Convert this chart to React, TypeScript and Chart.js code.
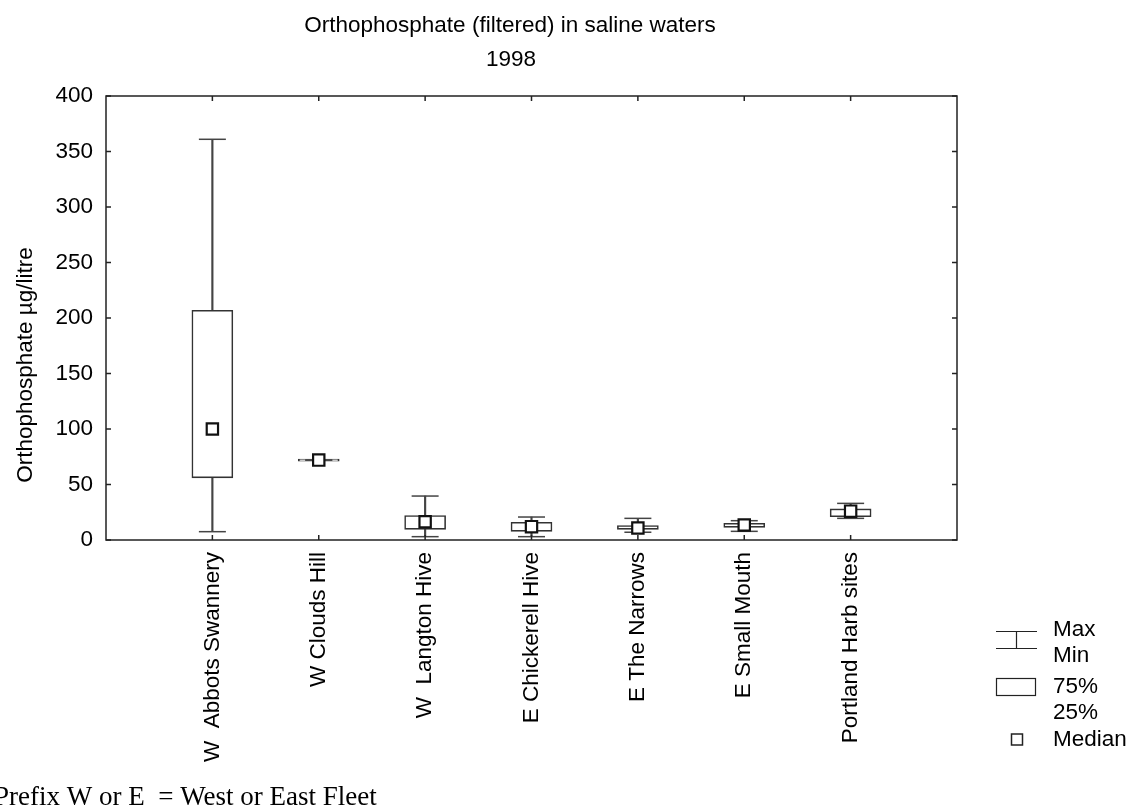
import React, { useEffect, useRef } from "react";
import { Chart, registerables } from "chart.js";

Chart.register(...registerables);

const sites = [
  "W  Abbots Swannery",
  "W Clouds Hill",
  "W  Langton Hive",
  "E Chickerell Hive",
  "E The Narrows",
  "E Small Mouth",
  "Portland Harb sites",
];
const minValues = [7.5, 72, 3, 3, 7, 7.8, 19.5];
const q1Values = [56, 71, 9.6, 7.8, 9.6, 11.4, 21];
const medianValues = [100, 72, 16.5, 12, 10.8, 13.5, 26];
const q3Values = [207, 73, 22, 16, 13, 15, 28];
const maxValues = [361, 72, 39.6, 20.7, 19.5, 17.4, 33];
const yTicks = [0, 50, 100, 150, 200, 250, 300, 350, 400];

const titleLines = ["Orthophosphate (filtered) in saline waters", "1998"];
const yTitle = "Orthophosphate µg/litre";
const footnote = "Prefix W or E  = West or East Fleet";
const legendLabels = ["Max", "Min", "75%", "25%", "Median"];

const SANS = "'Liberation Sans', Arial, sans-serif";
const SERIF = "'Liberation Serif', 'Times New Roman', serif";
const FS = 22.5;

function pad<T>(arr: T[]): (T | null)[] {
  return [null, ...arr, null];
}

const decorPlugin = {
  id: "decor",
  afterDraw(chart: any) {
    const { ctx, chartArea } = chart;
    const { left, right, top, bottom } = chartArea;
    const xs = chart.scales.x;
    const ys = chart.scales.y;
    ctx.save();
    // frame
    ctx.strokeStyle = "#222";
    ctx.lineWidth = 1.5;
    ctx.strokeRect(left, top, right - left, bottom - top);
    // inward ticks
    ctx.beginPath();
    const tl = 5;
    yTicks.forEach((v) => {
      const py = ys.getPixelForValue(v);
      ctx.moveTo(left, py);
      ctx.lineTo(left + tl, py);
      ctx.moveTo(right, py);
      ctx.lineTo(right - tl, py);
    });
    for (let i = 1; i <= sites.length; i++) {
      const px = xs.getPixelForValue(i);
      ctx.moveTo(px, top);
      ctx.lineTo(px, top + tl);
      ctx.moveTo(px, bottom);
      ctx.lineTo(px, bottom - tl);
    }
    ctx.stroke();

    // title
    ctx.fillStyle = "#000";
    ctx.font = `${FS}px ${SANS}`;
    ctx.textAlign = "center";
    ctx.textBaseline = "alphabetic";
    ctx.fillText(titleLines[0], 510, 32);
    ctx.fillText(titleLines[1], 511, 66);

    // y title
    ctx.save();
    ctx.translate(32, 365);
    ctx.rotate(-Math.PI / 2);
    ctx.textAlign = "center";
    ctx.fillText(yTitle, 0, 0);
    ctx.restore();

    // legend
    ctx.strokeStyle = "#222";
    ctx.lineWidth = 1.2;
    ctx.beginPath();
    ctx.moveTo(996, 631.5);
    ctx.lineTo(1037, 631.5);
    ctx.moveTo(1016.5, 631.5);
    ctx.lineTo(1016.5, 648.5);
    ctx.moveTo(996, 648.5);
    ctx.lineTo(1037, 648.5);
    ctx.stroke();
    ctx.strokeRect(996.5, 678.5, 39, 17);
    ctx.lineWidth = 1.5;
    ctx.strokeRect(1011.5, 734, 11, 11);
    ctx.textAlign = "left";
    ctx.font = `${FS}px ${SANS}`;
    ctx.fillText(legendLabels[0], 1053, 636);
    ctx.fillText(legendLabels[1], 1053, 662);
    ctx.fillText(legendLabels[2], 1053, 693);
    ctx.fillText(legendLabels[3], 1053, 719);
    ctx.fillText(legendLabels[4], 1053, 746);

    // footnote
    ctx.font = `27px ${SERIF}`;
    ctx.fillText(footnote, -6, 805);
    ctx.restore();
  },
};

export default function App() {
  const ref = useRef<HTMLCanvasElement | null>(null);
  useEffect(() => {
    if (!ref.current) return;
    const chart = new Chart(ref.current, {
      type: "bar",
      data: {
        labels: ["", ...sites, ""],
        datasets: [
          {
            type: "bar",
            label: "Range",
            data: pad(sites.map((_, i) => [minValues[i], maxValues[i]])) as any,
            backgroundColor: "#444",
            borderWidth: 0,
            barThickness: 1.5,
            grouped: false,
            order: 4,
          } as any,
          {
            type: "bar",
            label: "Box",
            data: pad(sites.map((_, i) => [q1Values[i], q3Values[i]])) as any,
            backgroundColor: "#fff",
            borderColor: "#333",
            borderWidth: 1.6,
            borderSkipped: false,
            barThickness: 41,
            grouped: false,
            order: 3,
          } as any,
          {
            type: "line",
            label: "Max",
            data: pad(maxValues),
            showLine: false,
            pointStyle: "line",
            pointRadius: 13.5,
            pointBorderWidth: 1.5,
            pointBorderColor: "#444",
            order: 2,
          } as any,
          {
            type: "line",
            label: "Min",
            data: pad(minValues),
            showLine: false,
            pointStyle: "line",
            pointRadius: 13.5,
            pointBorderWidth: 1.5,
            pointBorderColor: "#444",
            order: 2,
          } as any,
          {
            type: "line",
            label: "Median",
            data: pad(medianValues),
            showLine: false,
            pointStyle: "rect",
            pointRadius: 8,
            pointBorderWidth: 2.2,
            pointBorderColor: "#111",
            pointBackgroundColor: "#fff",
            order: 1,
          } as any,
        ],
      },
      options: {
        responsive: false,
        animation: false,
        devicePixelRatio: 1,
        layout: { padding: { left: 0, top: 96, right: 173, bottom: 17 } },
        plugins: {
          legend: { display: false },
          title: { display: false },
          tooltip: { enabled: false },
        },
        scales: {
          x: {
            type: "category",
            offset: false,
            grid: { display: false, drawTicks: false, offset: false },
            border: { display: false },
            ticks: {
              autoSkip: false,
              minRotation: 90,
              maxRotation: 90,
              padding: 12,
              color: "#000",
              font: { family: SANS, size: FS },
            },
            afterFit: (s: any) => {
              s.height = 250;
            },
          },
          y: {
            min: 0,
            max: 400,
            grid: { display: false, drawTicks: false },
            border: { display: false },
            ticks: {
              stepSize: 50,
              padding: 13,
              color: "#000",
              font: { family: SANS, size: FS },
            },
            afterFit: (s: any) => {
              s.width = 106;
            },
          },
        },
      } as any,
      plugins: [decorPlugin],
    });
    return () => chart.destroy();
  }, []);
  return (
    <div style={{ position: "fixed", left: 0, top: 0, width: 1130, height: 807, background: "#fff" }}>
      <canvas ref={ref} width={1130} height={807} style={{ display: "block" }} />
    </div>
  );
}
